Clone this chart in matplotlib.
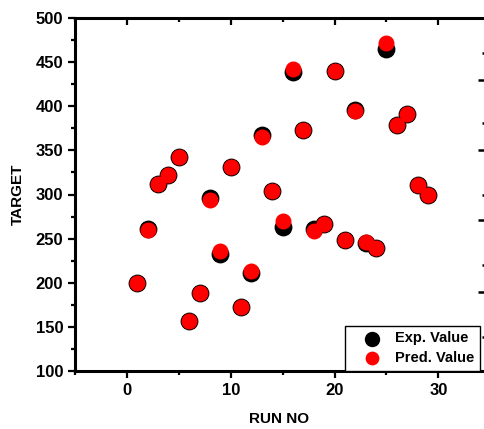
import matplotlib.pyplot as plt
from matplotlib.ticker import MultipleLocator

plt.rcParams['font.family'] = ['Liberation Sans', 'DejaVu Sans']
plt.rcParams['font.weight'] = 'bold'

# run number vs experimental / predicted target
run_no = list(range(1, 30))
exp_value = [200, 261, 312, 322, 342, 157, 188, 296, 233, 331,
             172, 211, 367, 304, 263, 439, 373, 261, 267, 440,
             248, 396, 245, 239, 465, 379, 391, 311, 300]
pred_value = [200, 260, 312, 322, 342, 157, 188, 294, 236, 331,
              172, 213, 365, 304, 270, 442, 373, 259, 267, 440,
              248, 395, 246, 239, 472, 379, 391, 311, 300]

fig = plt.figure(figsize=(4.85, 4.29), dpi=100)
ax = fig.add_axes([75/485, 1 - 371/429, 409/485, 353/429])

ax.scatter(run_no, exp_value, s=140, color='black', label='Exp. Value', zorder=3)
ax.scatter(run_no, pred_value, s=110, color='red', label='Pred. Value', zorder=4)

ax.set_xlim(-5, 34.4)
ax.set_ylim(100, 500)
ax.xaxis.set_major_locator(MultipleLocator(10))
ax.xaxis.set_minor_locator(MultipleLocator(5))
ax.yaxis.set_major_locator(MultipleLocator(50))
ax.yaxis.set_minor_locator(MultipleLocator(25))

for s in ax.spines.values():
    s.set_linewidth(2.2)
ax.spines['right'].set_visible(False)
ax.tick_params(which='both', labelsize=12, width=1.6)
ax.tick_params(axis='x', which='both', top=True)
ax.tick_params(which='major', length=5)
ax.tick_params(which='minor', length=3)
# top ticks point inwards
for t in ax.xaxis.get_major_ticks() + ax.xaxis.get_minor_ticks():
    t.tick2line.set_marker(3)

ax.set_xlabel('RUN NO', fontsize=11, fontweight='bold', labelpad=10)
ax.set_ylabel('TARGET', fontsize=11, fontweight='bold', labelpad=8)

# stray right-side ticks (their spine is cut off at the picture edge)
ax2 = ax.twinx()
ax2.set_ylim(371, 18)
ax2.set_yticks([80, 150, 220, 292])
ax2.set_yticks([53, 123, 195, 265, 337], minor=True)
ax2.tick_params(axis='y', which='both', direction='in', labelright=False, width=1.8)
ax2.tick_params(axis='y', which='major', length=4)
ax2.tick_params(axis='y', which='minor', length=1.8)
for s in ax2.spines.values():
    s.set_visible(False)

leg = ax.legend(loc='lower right', bbox_to_anchor=(405/409, 0.0), borderaxespad=0,
                fancybox=False, edgecolor='black', framealpha=1,
                prop={'size': 10.5, 'weight': 'bold'}, markerscale=0.85,
                handlelength=2.9, handletextpad=0.1, borderpad=0.4,
                labelspacing=0.4)
leg.get_frame().set_linewidth(1.0)
leg.set_zorder(10)

fig.savefig('out.png', dpi=100)
